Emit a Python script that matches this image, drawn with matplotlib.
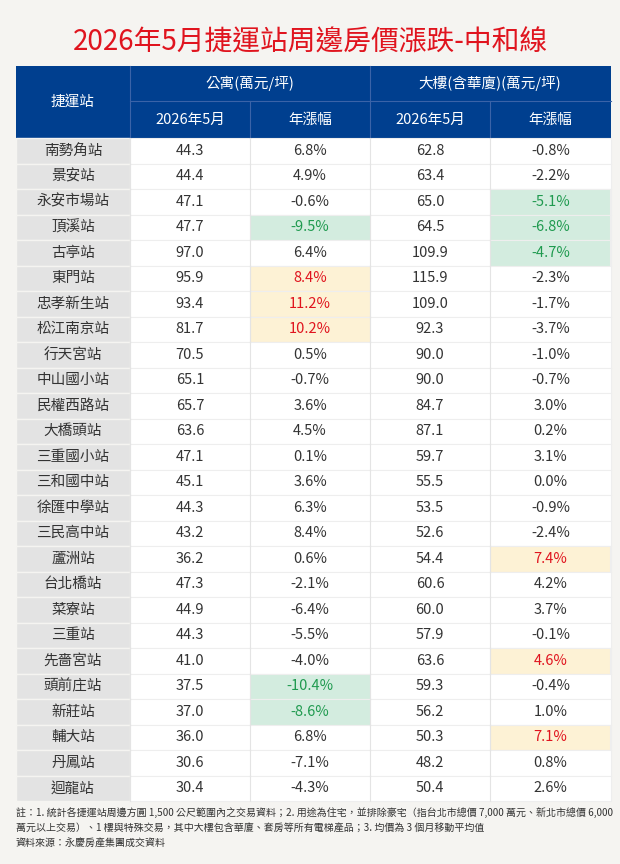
import matplotlib
matplotlib.use("Agg")
import matplotlib.pyplot as plt
from matplotlib.patches import Rectangle

plt.rcParams['font.family'] = ['Noto Sans CJK TC', 'DejaVu Sans']

stations = ["南勢角站","景安站","永安市場站","頂溪站","古亭站","東門站","忠孝新生站","松江南京站","行天宮站","中山國小站",
            "民權西路站","大橋頭站","三重國小站","三和國中站","徐匯中學站","三民高中站","蘆洲站","台北橋站","菜寮站","三重站",
            "先嗇宮站","頭前庄站","新莊站","輔大站","丹鳳站","迴龍站"]
apt_price = [44.3,44.4,47.1,47.7,97.0,95.9,93.4,81.7,70.5,65.1,65.7,63.6,47.1,45.1,44.3,43.2,36.2,47.3,44.9,44.3,41.0,37.5,37.0,36.0,30.6,30.4]
apt_yoy = [6.8,4.9,-0.6,-9.5,6.4,8.4,11.2,10.2,0.5,-0.7,3.6,4.5,0.1,3.6,6.3,8.4,0.6,-2.1,-6.4,-5.5,-4.0,-10.4,-8.6,6.8,-7.1,-4.3]
bld_price = [62.8,63.4,65.0,64.5,109.9,115.9,109.0,92.3,90.0,90.0,84.7,87.1,59.7,55.5,53.5,52.6,54.4,60.6,60.0,57.9,63.6,59.3,56.2,50.3,48.2,50.4]
bld_yoy = [-0.8,-2.2,-5.1,-6.8,-4.7,-2.3,-1.7,-3.7,-1.0,-0.7,3.0,0.2,3.1,0.0,-0.9,-2.4,7.4,4.2,3.7,-0.1,4.6,-0.4,1.0,7.1,0.8,2.6]
apt_hi_down = ["頂溪站","頭前庄站","新莊站"]
apt_hi_up = ["東門站","忠孝新生站","松江南京站"]
bld_hi_down = ["永安市場站","頂溪站","古亭站"]
bld_hi_up = ["蘆洲站","先嗇宮站","輔大站"]

title = "2026年5月捷運站周邊房價漲跌-中和線"
note1 = "註：1. 統計各捷運站周邊方圓 1,500 公尺範圍內之交易資料；2. 用途為住宅，並排除豪宅（指台北市總價 7,000 萬元、新北市總價 6,000"
note2 = "萬元以上交易）、1 樓與特殊交易，其中大樓包含華廈、套房等所有電梯產品；3. 均價為 3 個月移動平均值"
note3 = "資料來源：永慶房產集團成交資料"

fig = plt.figure(figsize=(6.2, 8.64), dpi=100, facecolor="#f5f4f1")
ax = fig.add_axes([0, 0, 1, 1])
ax.set_xlim(0, 620); ax.set_ylim(864, 0); ax.axis("off")

blue = "#003f8f"; line = "#3a63a8"
cols = [16, 130, 250, 370, 490, 611]
h0, h1, h2 = 66, 101, 138
ax.text(310, 43, title, ha="center", va="center", fontsize=20, color="#e0141e")
ax.add_patch(Rectangle((16, h0), 595, h2 - h0, color=blue, lw=0))
ax.plot([130, 611], [h1, h1], color=line, lw=0.8)
ax.plot([130, 130], [h0, h2], color=line, lw=0.8)
ax.plot([370, 370], [h0, h2], color=line, lw=0.8)
ax.plot([250, 250], [h1, h2], color=line, lw=0.8)
ax.plot([490, 490], [h1, h2], color=line, lw=0.8)
hs = dict(color="white", fontsize=10.5, ha="center", va="center")
ax.text(73, (h0 + h2) / 2, "捷運站", **hs)
ax.text(250, (h0 + h1) / 2, "公寓(萬元/坪)", **hs)
ax.text(490, (h0 + h1) / 2, "大樓(含華廈)(萬元/坪)", **hs)
for i, t in enumerate(["2026年5月", "年漲幅", "2026年5月", "年漲幅"]):
    ax.text((cols[i + 1] + cols[i + 2]) / 2, (h1 + h2) / 2, t, **hs)

rh = (801 - h2) / len(stations)
for r, s in enumerate(stations):
    y = h2 + r * rh
    ax.add_patch(Rectangle((16, y), 114, rh, facecolor="#e3e3e3", edgecolor="#f5f4f1", lw=1))
    ax.add_patch(Rectangle((130, y), 481, rh, facecolor="white", edgecolor="#eeeeee", lw=0.8))
    vals = [f"{apt_price[r]:.1f}", f"{apt_yoy[r]:.1f}%", f"{bld_price[r]:.1f}", f"{bld_yoy[r]:.1f}%"]
    colors = ["#333333"] * 4
    for ci, dn, up in [(1, apt_hi_down, apt_hi_up), (3, bld_hi_down, bld_hi_up)]:
        x0 = cols[ci + 1]
        if s in dn:
            ax.add_patch(Rectangle((x0, y), 120, rh, facecolor="#d3ecdf", edgecolor="#eeeeee", lw=0.8)); colors[ci] = "#1f9a4f"
        elif s in up:
            ax.add_patch(Rectangle((x0, y), 120, rh, facecolor="#fdf2d5", edgecolor="#eeeeee", lw=0.8)); colors[ci] = "#e0141e"
    for c in range(1, 5):
        ax.plot([cols[c], cols[c]], [y, y + rh], color="#e4e4e4", lw=0.8)
    ax.text(73, y + rh / 2, s, ha="center", va="center", fontsize=10.5, color="#333333")
    for c in range(4):
        ax.text((cols[c + 1] + cols[c + 2]) / 2, y + rh / 2, vals[c], ha="center", va="center", fontsize=10.5, color=colors[c])

ax.text(16, 813, note1, fontsize=7.2, color="#333333", va="center")
ax.text(16, 828, note2, fontsize=7.2, color="#333333", va="center")
ax.text(16, 843, note3, fontsize=7.2, color="#333333", va="center")
fig.savefig("out.png", dpi=100, facecolor=fig.get_facecolor())
